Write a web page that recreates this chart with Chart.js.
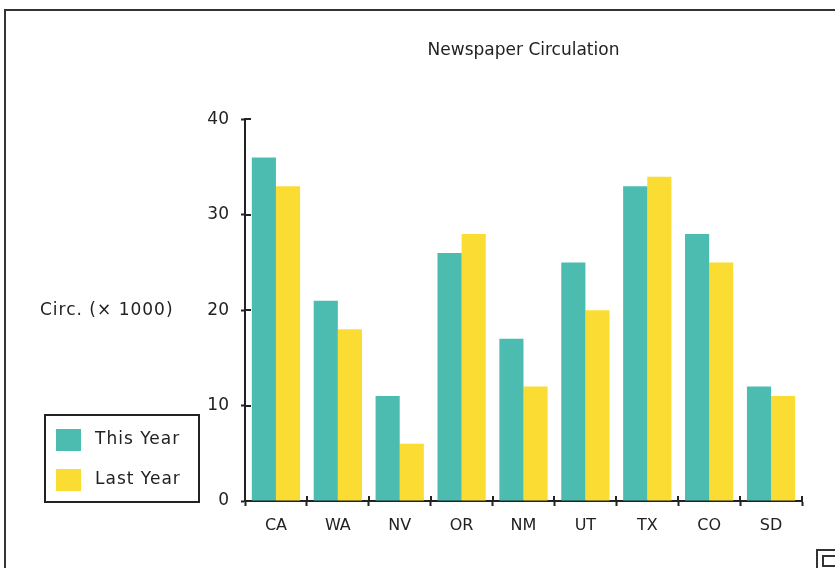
<!DOCTYPE html>
<html>
<head>
<meta charset="utf-8">
<title>Newspaper Circulation</title>
<script src="https://cdn.jsdelivr.net/npm/chart.js@4"></script>
<style>
  html, body { margin: 0; padding: 0; background: #fff; }
  #wrap { position: relative; width: 835px; height: 568px; }
</style>
</head>
<body>
<div id="wrap"><canvas id="circChart"></canvas></div>
<script>
// Circulation figures, thousands of copies
const states = ["CA", "WA", "NV", "OR", "NM", "UT", "TX", "CO", "SD"];
const thisYear = [36, 21, 11, 26, 17, 25, 33, 28, 12];
const lastYear = [33, 18, 6, 28, 12, 20, 34, 25, 11];
const yTicks = [0, 10, 20, 30, 40];

const ink = "#222";
const font = "'DejaVu Sans', sans-serif";

// Window frame, axis cross-ticks, side label and boxed legend
const decorations = {
  id: "decorations",
  afterDraw(chart) {
    const ctx = chart.ctx;
    const area = chart.chartArea;
    const y = chart.scales.y;
    const x = chart.scales.x;
    ctx.save();

    // frame
    ctx.strokeStyle = "#333";
    ctx.lineWidth = 2;
    ctx.strokeRect(5, 10, 900, 600);

    // grow box in the corner
    ctx.strokeRect(817, 550, 40, 40);
    ctx.strokeRect(823, 556, 20, 10);

    // tick marks on the inner side of both axes
    ctx.strokeStyle = ink;
    ctx.beginPath();
    yTicks.forEach((v) => {
      const py = Math.round(y.getPixelForValue(v));
      ctx.moveTo(area.left, py);
      ctx.lineTo(area.left + 6, py);
    });
    for (let i = 0; i <= states.length; i++) {
      const px = Math.round(x.getPixelForValue(i - 0.5));
      ctx.moveTo(px, area.bottom);
      ctx.lineTo(px, area.bottom - 5);
    }
    ctx.stroke();

    // y title, written horizontally
    ctx.fillStyle = ink;
    ctx.font = "17px " + font;
    ctx.textAlign = "left";
    ctx.textBaseline = "middle";
    ctx.letterSpacing = "1px";
    ctx.fillText("Circ. (\u00d7 1000)", 40, y.getPixelForValue(20));

    // legend box
    const lx = 45, ly = 415, lw = 154, lh = 87;
    ctx.strokeRect(lx, ly, lw, lh);
    chart.data.datasets.forEach((ds, i) => {
      const rowY = ly + 25 + i * 40;
      ctx.fillStyle = ds.backgroundColor;
      ctx.fillRect(lx + 11, rowY - 11, 25, 22);
      ctx.fillStyle = ink;
      ctx.font = "17px " + font;
      ctx.fillText(ds.label, lx + 50, rowY);
    });

    ctx.restore();
  },
};

new Chart(document.getElementById("circChart"), {
  type: "bar",
  data: {
    labels: states,
    datasets: [
      { label: "This Year", data: thisYear, backgroundColor: "#4cbcb0" },
      { label: "Last Year", data: lastYear, backgroundColor: "#fadc32" },
    ],
  },
  options: {
    responsive: true,
    maintainAspectRatio: false,
    animation: false,
    layout: { padding: { left: 185, right: 33, top: 10, bottom: 27 } },
    datasets: {
      bar: { categoryPercentage: 0.78, barPercentage: 1.0 },
    },
    plugins: {
      legend: { display: false },
      tooltip: { enabled: false },
      title: {
        display: true,
        fullSize: false,
        text: "Newspaper Circulation",
        color: ink,
        font: { family: font, size: 17, weight: "normal" },
        padding: { top: 30, bottom: 59 },
      },
    },
    scales: {
      x: {
        afterFit: (s) => { s.height = 40; },
        grid: {
          offset: true,
          drawOnChartArea: false,
          tickLength: 5,
          tickWidth: 2,
          color: ink,
        },
        border: { color: ink, width: 2 },
        ticks: { color: ink, font: { family: font, size: 16 }, padding: 10 },
      },
      y: {
        min: 0,
        max: 40,
        afterFit: (s) => { s.width = 60; },
        ticks: { stepSize: 10, color: ink, font: { family: font, size: 17 }, padding: 12 },
        grid: {
          drawOnChartArea: false,
          tickLength: 4,
          tickWidth: 2,
          color: ink,
        },
        border: { color: ink, width: 2 },
      },
    },
  },
  plugins: [decorations],
});
</script>
</body>
</html>
